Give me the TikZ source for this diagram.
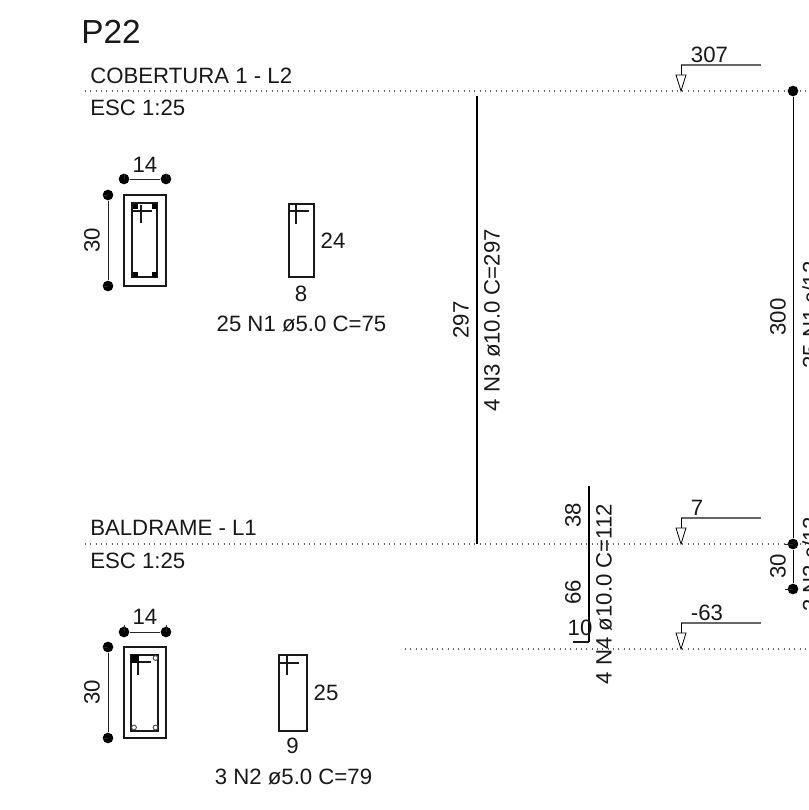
\documentclass[tikz,border=0pt]{standalone}
\usepackage{fontspec}
\setmainfont{Liberation Sans}
\tikzset{
 lbl/.style={inner sep=0pt,font=\fontsize{16.65pt}{19pt}\selectfont,text=black!90},
 ttl/.style={inner sep=0pt,font=\fontsize{25pt}{28pt}\selectfont,text=black!90},
 rot/.style={lbl,rotate=90},
 dotd/.style={fill=black,circle,inner sep=0pt,minimum size=8pt},
 thin line/.style={line width=0.7pt,draw=black!85},
 level/.style={line width=0.8pt,draw=black!60},
 dots/.style={line width=0.8pt,draw=black!60,dash pattern=on 0.8pt off 3.2pt},
 rebar/.style={line width=2pt,draw=black},
 stir/.style={line width=1.3pt,draw=black!90},
 hook/.style={line width=1.1pt,draw=black!90},
 tri/.style={line width=0.6pt,draw=black,fill=white},
}
\begin{document}
\begin{tikzpicture}[x=0.75pt,y=-0.75pt]
\useasboundingbox (0,0) rectangle (809,810);
\clip (0,0) rectangle (809,810);
\fill[white] (0,0) rectangle (809,810);
% level lines
\coordinate (L1a) at (85,91); \coordinate (L1b) at (809,91);
\coordinate (L2a) at (85,544); \coordinate (L2b) at (809,544);
\coordinate (L3a) at (405,649); \coordinate (L3b) at (809,649);
\draw[dots] (L1a) -- (L1b);
\draw[dots] (L2a) -- (L2b);
\draw[dots] (L3a) -- (L3b);
% titles
\node[ttl,anchor=base west] (title) at (81,43) {P22};
\node[lbl,anchor=base west] (cob) at (90,83) {COBERTURA 1 - L2};
\node[lbl,anchor=base west] (esc1) at (90,115) {ESC 1:25};
\node[lbl,anchor=base west] (bal) at (90,535) {BALDRAME - L1};
\node[lbl,anchor=base west] (esc2) at (90,568) {ESC 1:25};
% section 1
\draw[stir] (124,195) rectangle (166,286);
\draw[stir] (132,203) rectangle (157,277);
\draw[hook] (141,205) -- (141,223);
\draw[hook] (133,211) -- (152,211);
\foreach \p in {(135,206),(154,206),(135,274),(154,274)} \fill[black] \p ++(-2.5,-2.5) rectangle ++(5,5);
\node[dotd] (d1a) at (124,179) {}; \node[dotd] (d1b) at (166,179) {};
\draw[thin line] (d1a) -- (d1b);
\draw[thin line] (d1a.center) -- ++(0,-5); \draw[thin line] (d1b.center) -- ++(0,-5);
\node[lbl] (n14a) at (145,165) {14};
\node[dotd] (d1c) at (108,195) {}; \node[dotd] (d1d) at (108,286) {};
\draw[thin line] (d1c) -- (d1d);
\draw[thin line] (d1c.center) -- ++(-5,0); \draw[thin line] (d1d.center) -- ++(-5,0);
\node[rot] (n30a) at (92,240) {30};
% stirrup 1
\draw[stir] (289,204) rectangle (314,277);
\draw[hook] (296,205) -- (296,224);
\draw[hook] (289,211) -- (309,211);
\node[lbl] (n24) at (333,241) {24};
\node[lbl] (n8) at (301,294) {8};
\node[lbl] (n1) at (301.5,324) {25 N1 ø5.0 C=75};
% section 2
\draw[stir] (124,647) rectangle (166,738);
\draw[stir] (131,655) rectangle (158,731);
\draw[hook] (138,657) -- (138,675);
\draw[hook] (132,662) -- (151,662);
\fill[black] (131,655) rectangle (139,663);
\foreach \p in {(155.5,658),(134,727.5),(155.5,727.5)} \draw[line width=0.7pt,draw=black!70] \p circle (1.8pt);
\node[dotd] (d2a) at (124,632) {}; \node[dotd] (d2b) at (166,632) {};
\draw[thin line] (d2a) -- (d2b);
\draw[thin line] (d2a.center) -- ++(0,-7); \draw[thin line] (d2b.center) -- ++(0,-7);
\node[lbl] (n14b) at (145,617) {14};
\node[dotd] (d2c) at (108,647) {}; \node[dotd] (d2d) at (108,738) {};
\draw[thin line] (d2c) -- (d2d);
\draw[thin line] (d2c.center) -- ++(-5,0); \draw[thin line] (d2d.center) -- ++(-5,0);
\node[rot] (n30b) at (92,692) {30};
% stirrup 2
\draw[stir] (279,655) rectangle (307,731);
\draw[hook] (287,656) -- (287,675);
\draw[hook] (280,663) -- (299,663);
\node[lbl] (n25) at (326,693) {25};
\node[lbl] (n9) at (292.5,746) {9};
\node[lbl] (n2) at (293.5,777) {3 N2 ø5.0 C=79};
% bar N3
\coordinate (b3a) at (477,96); \coordinate (b3b) at (477,544);
\draw[rebar] (b3a) -- (b3b);
\node[rot] (n297) at (461,320) {297};
\node[rot] (n3) at (492,320) {4 N3 ø10.0 C=297};
% bar N4
\coordinate (b4a) at (589,486); \coordinate (b4b) at (589,642); \coordinate (b4c) at (573,642);
\draw[rebar] (b4a) -- (b4b);
\draw[stir] (b4b) -- (b4c);
\node[rot] (n38) at (573,515) {38};
\node[rot] (n66) at (573,592) {66};
\node[lbl] (n10) at (580,628) {10};
\node[rot] (n4) at (604,594) {4 N4 ø10.0 C=112};
% level markers
\foreach \nm/\yy/\txt/\tx in {A/91/307/709.5,B/544/7/697,C/649/-63/707}{
  \coordinate (m\nm) at (681,\yy);
  \coordinate (h\nm) at (681,\yy-26);
  \coordinate (e\nm) at (761,\yy-26);
  \draw[level] (h\nm) -- (e\nm);
  \draw[thin line,draw=black] (h\nm) -- (m\nm);
  \draw[tri] (m\nm) -- ++(-5,-16) -- ++(10,0) -- cycle;
  \node[lbl,anchor=base] (t\nm) at (\tx,\yy-29) {\txt};
}
% right dimension
\node[dotd] (r1) at (793,91) {};
\node[dotd] (r2) at (793,544) {};
\node[dotd] (r3) at (793,589) {};
\draw[thin line,draw=black] (r1) -- (r2) -- (r3);
\draw[thin line] (r3.center) -- ++(-8,0);
\draw[thin line] (r2.center) -- ++(-8,0);
\node[rot] (n300) at (778,317) {300};
\node[rot] (n30c) at (778,566) {30};
\node[rot,anchor=west] (nc1) at (810.5,369) {25 N1 c/12};
\node[rot,anchor=west] (nc2) at (810.5,612) {3 N2 c/12};
\end{tikzpicture}
\end{document}
